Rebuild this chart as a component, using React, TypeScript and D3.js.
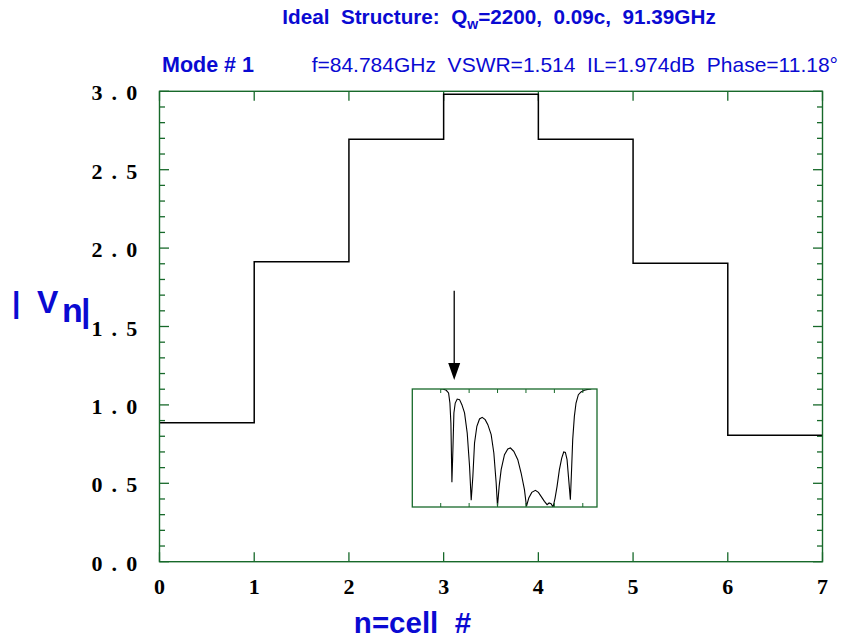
import React from 'react';
import * as d3 from 'd3';

// ---------- data ----------
const cells = [0, 1, 2, 3, 4, 5, 6, 7];
const cellVoltage = [0.886, 1.913, 2.694, 2.981, 2.694, 1.903, 0.806];
const yTicks = [0, 0.5, 1.0, 1.5, 2.0, 2.5, 3.0];
const yTickLabels = ['0 . 0', '0 . 5', '1 . 0', '1 . 5', '2 . 0', '2 . 5', '3 . 0'];
const xTickLabels = ['0', '1', '2', '3', '4', '5', '6', '7'];

// inset: transmission vs frequency (GHz)
const insetFreq = [
  82.0, 82.155, 82.39, 82.553, 82.647, 82.717, 82.788, 82.858, 82.928, 83.022, 83.162, 83.326,
  83.49, 83.677, 83.865, 84.029, 84.146, 84.263, 84.38, 84.544, 84.731, 84.919, 85.13, 85.317,
  85.551, 85.739, 85.903, 85.996, 86.113, 86.254, 86.488, 86.723, 86.91, 87.144, 87.425, 87.659,
  87.894, 88.034, 88.198, 88.409, 88.667, 88.877, 89.065, 89.299, 89.487, 89.627, 89.768, 89.908,
  90.049, 90.189, 90.353, 90.517, 90.658, 90.775, 90.892, 91.009, 91.126, 91.22, 91.29, 91.407,
  91.524, 91.688, 91.876, 92.11, 92.344, 92.6,
];
const insetMag = [
  1.0, 1.0, 0.989, 0.966, 0.881, 0.712, 0.209, 0.486, 0.797, 0.881, 0.915, 0.91,
  0.867, 0.797, 0.627, 0.345, 0.057, 0.26, 0.542, 0.684, 0.746, 0.76, 0.74, 0.698,
  0.613, 0.458, 0.203, 0.006, 0.175, 0.316, 0.443, 0.492, 0.5, 0.472, 0.401, 0.288,
  0.147, 0.006, 0.076, 0.124, 0.141, 0.124, 0.09, 0.048, 0.02, 0.034, 0.028, 0.0,
  0.076, 0.175, 0.316, 0.415, 0.466, 0.463, 0.401, 0.232, 0.062, 0.345, 0.571, 0.768,
  0.881, 0.952, 0.975, 0.989, 0.997, 1.0,
];
const insetTicks = [82, 84, 86, 88, 90, 92];
const arrowFreq = 82.95;

// ---------- styles ----------
const GREEN = '#17692a';
const BLUE = '#0a0ad2';
const SANS = "'Liberation Sans Narrow', 'Arial Narrow', 'Liberation Sans', Arial, sans-serif";
const SERIF = "'Liberation Serif', 'Times New Roman', serif";

export default function App() {
  const x = d3.scaleLinear().domain([0, 7]).range([159.5, 822.5]);
  const y = d3.scaleLinear().domain([0, 3]).range([561.7, 91.3]);

  const stepData: [number, number][] = cells.map((c, i) => [c, cellVoltage[Math.min(i, cellVoltage.length - 1)]]);
  const stepLine = d3
    .line<[number, number]>()
    .x((d) => x(d[0]))
    .y((d) => y(d[1]))
    .curve(d3.curveStepAfter);

  const minorTicks = d3.range(0, 31).map((i) => i / 10);

  const xi = d3.scaleLinear().domain([80, 93]).range([412.3, 597]);
  const yi = d3.scaleLinear().domain([0, 1]).range([507, 389]);
  const insetLine = d3
    .line<number>()
    .x((_, i) => xi(insetFreq[i]))
    .y((d) => yi(d));

  const ax = xi(arrowFreq);
  const arrowTop = 290.7;
  const arrowTip = yi(1) - 9;

  return (
    <svg
      width={843}
      height={639}
      style={{ position: 'absolute', left: 0, top: 0, background: '#fff' }}
    >
      <rect x={0} y={0} width={843} height={639} fill="#fff" />
      {/* titles */}
      <text
        x={499}
        y={24}
        textAnchor="middle"
        fontFamily={SANS}
        fontWeight="bold"
        fontSize={20.7}
        fill={BLUE}
        style={{ whiteSpace: 'pre' }}
      >
        {'Ideal  Structure:  Q'}
        <tspan fontSize={14} dy={5}>w</tspan>
        <tspan dy={-5}>{'=2200,  0.09c,  91.39GHz'}</tspan>
      </text>
      <text x={162} y={72} fontFamily={SANS} fontWeight="bold" fontSize={21.5} fill={BLUE} style={{ whiteSpace: 'pre' }}>
        {'Mode # 1'}
      </text>
      <text x={838} y={72} textAnchor="end" fontFamily={SANS} fontSize={21} fill={BLUE} style={{ whiteSpace: 'pre' }}>
        {'f=84.784GHz  VSWR=1.514  IL=1.974dB  Phase=11.18°'}
      </text>

      {/* y label */}
      <g fontFamily={SANS} fontWeight="bold" fill={BLUE}>
        <text x={12} y={313} fontSize={30}>|</text>
        <text x={37} y={313} fontSize={32}>V</text>
        <text x={62} y={322} fontSize={34}>n</text>
        <text x={81} y={322} fontSize={34}>|</text>
      </g>

      {/* x label */}
      <text
        x={412.5}
        y={633}
        textAnchor="middle"
        fontFamily={SANS}
        fontWeight="bold"
        fontSize={29.5}
        fill={BLUE}
        style={{ whiteSpace: 'pre' }}
      >
        {'n=cell  #'}
      </text>

      {/* minor/major y ticks */}
      <g stroke={GREEN} strokeWidth={1.3}>
        {minorTicks.map((t, i) => {
          const len = i % 5 === 0 ? 9.5 : 5.5;
          return (
            <g key={'yt' + i}>
              <line x1={x(0)} x2={x(0) + len} y1={y(t)} y2={y(t)} />
              <line x1={x(7)} x2={x(7) - len} y1={y(t)} y2={y(t)} />
            </g>
          );
        })}
        {cells.map((c) => (
          <g key={'xt' + c}>
            <line x1={x(c)} x2={x(c)} y1={y(0)} y2={y(0) - 9.5} />
            <line x1={x(c)} x2={x(c)} y1={y(3)} y2={y(3) + 9.5} />
          </g>
        ))}
      </g>

      {/* step line */}
      <path d={stepLine(stepData) || ''} fill="none" stroke="#000" strokeWidth={1.5} />

      {/* frame */}
      <rect x={x(0)} y={y(3)} width={x(7) - x(0)} height={y(0) - y(3)} fill="none" stroke={GREEN} strokeWidth={1.4} />

      {/* tick labels */}
      <g fontFamily={SERIF} fontWeight="bold" fontSize={22} fill="#000">
        {yTicks.map((t, i) => (
          <text key={'yl' + i} x={139} y={y(t) + 9} textAnchor="end" letterSpacing={1.8} style={{ whiteSpace: 'pre' }}>
            {yTickLabels[i]}
          </text>
        ))}
        {cells.map((c, i) => (
          <text key={'xl' + i} x={x(c)} y={594} textAnchor="middle">
            {xTickLabels[i]}
          </text>
        ))}
      </g>

      {/* inset */}
      <defs>
        <clipPath id="insetClip">
          <rect x={xi(80)} y={yi(1)} width={xi(93) - xi(80)} height={yi(0) - yi(1)} />
        </clipPath>
      </defs>
      <rect x={xi(80)} y={yi(1)} width={xi(93) - xi(80)} height={yi(0) - yi(1)} fill="#fff" />
      <path d={insetLine(insetMag) || ''} fill="none" stroke="#000" strokeWidth={1.1} clipPath="url(#insetClip)" />
      <g stroke={GREEN} strokeWidth={1}>
        {insetTicks.map((t) => (
          <g key={'it' + t}>
            <line x1={xi(t)} x2={xi(t)} y1={yi(0)} y2={yi(0) - 4} />
            <line x1={xi(t)} x2={xi(t)} y1={yi(1)} y2={yi(1) + 4} />
          </g>
        ))}
      </g>
      <rect x={xi(80)} y={yi(1)} width={xi(93) - xi(80)} height={yi(0) - yi(1)} fill="none" stroke={GREEN} strokeWidth={1.3} />

      {/* arrow */}
      <line x1={ax} x2={ax} y1={arrowTop} y2={arrowTip - 14} stroke="#000" strokeWidth={1.3} />
      <path d={`M${ax - 6},${arrowTip - 17} L${ax + 6},${arrowTip - 17} L${ax},${arrowTip} Z`} fill="#000" />
    </svg>
  );
}
